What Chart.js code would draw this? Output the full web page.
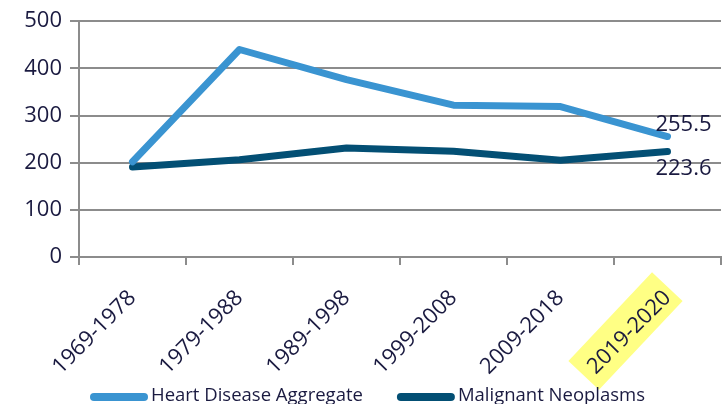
<!DOCTYPE html>
<html>
<head>
<meta charset="utf-8">
<script src="https://cdn.jsdelivr.net/npm/chart.js@4"></script>
<style>
  html, body { margin: 0; padding: 0; background: #fff; overflow: hidden; }
  #box { width: 723px; height: 404px; position: relative; }
</style>
</head>
<body>
<div id="box"><canvas id="chart"></canvas></div>
<script>
// Data
const categories = ['1969-1978', '1979-1988', '1989-1998', '1999-2008', '2009-2018', '2019-2020'];
const heartDisease = [202, 440, 376, 322, 319, 255.5];
const malignantNeoplasms = [191, 206, 231, 224, 205, 223.6];
const yTicks = [0, 100, 200, 300, 400, 500];

const textColor = '#1a1a40';
const gridColor = '#8c8c8c';
const fontFamily = '"Open Sans", "Noto Sans", sans-serif';

// Yellow highlight behind the last category label
const highlightPlugin = {
    id: 'highlight',
    beforeDraw(chart) {
        const x = chart.scales.x.getPixelForValue(categories.length - 1);
        const bottom = chart.chartArea.bottom;
        const ctx = chart.ctx;
        ctx.save();
        ctx.translate(x - 42, bottom + 74);
        ctx.rotate(-Math.PI / 4 - 0.03);
        ctx.fillStyle = '#ffff84';
        ctx.fillRect(-61, -21, 122, 42);
        ctx.restore();
    }
};

// Value labels for the last points
const endLabelPlugin = {
    id: 'endLabels',
    afterDatasetsDraw(chart) {
        const ctx = chart.ctx;
        ctx.save();
        ctx.font = '22px ' + fontFamily;
        ctx.fillStyle = textColor;
        ctx.textAlign = 'center';
        ctx.textBaseline = 'middle';
        const last = categories.length - 1;
        const p0 = chart.getDatasetMeta(0).data[last];
        const p1 = chart.getDatasetMeta(1).data[last];
        ctx.fillText(String(heartDisease[last]), p0.x + 16, p0.y - 12);
        ctx.fillText(String(malignantNeoplasms[last]), p1.x + 16, p1.y + 17);
        ctx.restore();
    }
};

// Legend drawn at the very bottom, partly cut by the canvas edge
const bottomLegendPlugin = {
    id: 'bottomLegend',
    afterDraw(chart) {
        const ctx = chart.ctx;
        ctx.save();
        ctx.font = '18.5px ' + fontFamily;
        ctx.textBaseline = 'middle';
        let x = 90;
        const y = 396;
        chart.data.datasets.forEach(ds => {
            ctx.strokeStyle = ds.borderColor;
            ctx.lineWidth = 8;
            ctx.lineCap = 'round';
            ctx.beginPath();
            ctx.moveTo(x + 4, y + 1);
            ctx.lineTo(x + 54, y + 1);
            ctx.stroke();
            x += 61;
            ctx.fillStyle = textColor;
            ctx.fillText(ds.label, x, y);
            x += ctx.measureText(ds.label).width + 34;
        });
        ctx.restore();
    }
};

new Chart(document.getElementById('chart'), {
    type: 'line',
    data: {
        labels: categories,
        datasets: [{
            label: 'Heart Disease Aggregate',
            data: heartDisease,
            borderColor: '#3a94d1',
            backgroundColor: '#3a94d1',
            borderWidth: 7,
            pointRadius: 0,
            borderCapStyle: 'round',
            borderJoinStyle: 'round',
            tension: 0
        }, {
            label: 'Malignant Neoplasms',
            data: malignantNeoplasms,
            borderColor: '#034f74',
            backgroundColor: '#034f74',
            borderWidth: 7,
            pointRadius: 0,
            borderCapStyle: 'round',
            borderJoinStyle: 'round',
            tension: 0
        }]
    },
    options: {
        responsive: true,
        maintainAspectRatio: false,
        animation: false,
        layout: {
            padding: { top: 21, right: 2, left: 0, bottom: 0 }
        },
        plugins: {
            legend: { display: false },
            tooltip: { enabled: false }
        },
        scales: {
            y: {
                min: 0,
                max: 500,
                afterBuildTicks(scale) {
                    scale.ticks = yTicks.map(v => ({ value: v }));
                },
                afterFit(scale) {
                    scale.width = 79;
                },
                ticks: {
                    color: textColor,
                    font: { family: fontFamily, size: 22 },
                    padding: 8
                },
                grid: {
                    color: gridColor,
                    lineWidth: 2,
                    tickLength: 9
                },
                border: { color: gridColor, width: 2 }
            },
            x: {
                offset: true,
                afterFit(scale) {
                    scale.height = 147;
                },
                ticks: {
                    color: textColor,
                    font: { family: fontFamily, size: 22 },
                    minRotation: 45,
                    maxRotation: 45,
                    padding: 20,
                    autoSkip: false
                },
                grid: {
                    offset: true,
                    drawOnChartArea: false,
                    color: gridColor,
                    lineWidth: 2,
                    tickLength: 8
                },
                border: { color: gridColor, width: 2 }
            }
        }
    },
    plugins: [highlightPlugin, endLabelPlugin, bottomLegendPlugin]
});
</script>
</body>
</html>
